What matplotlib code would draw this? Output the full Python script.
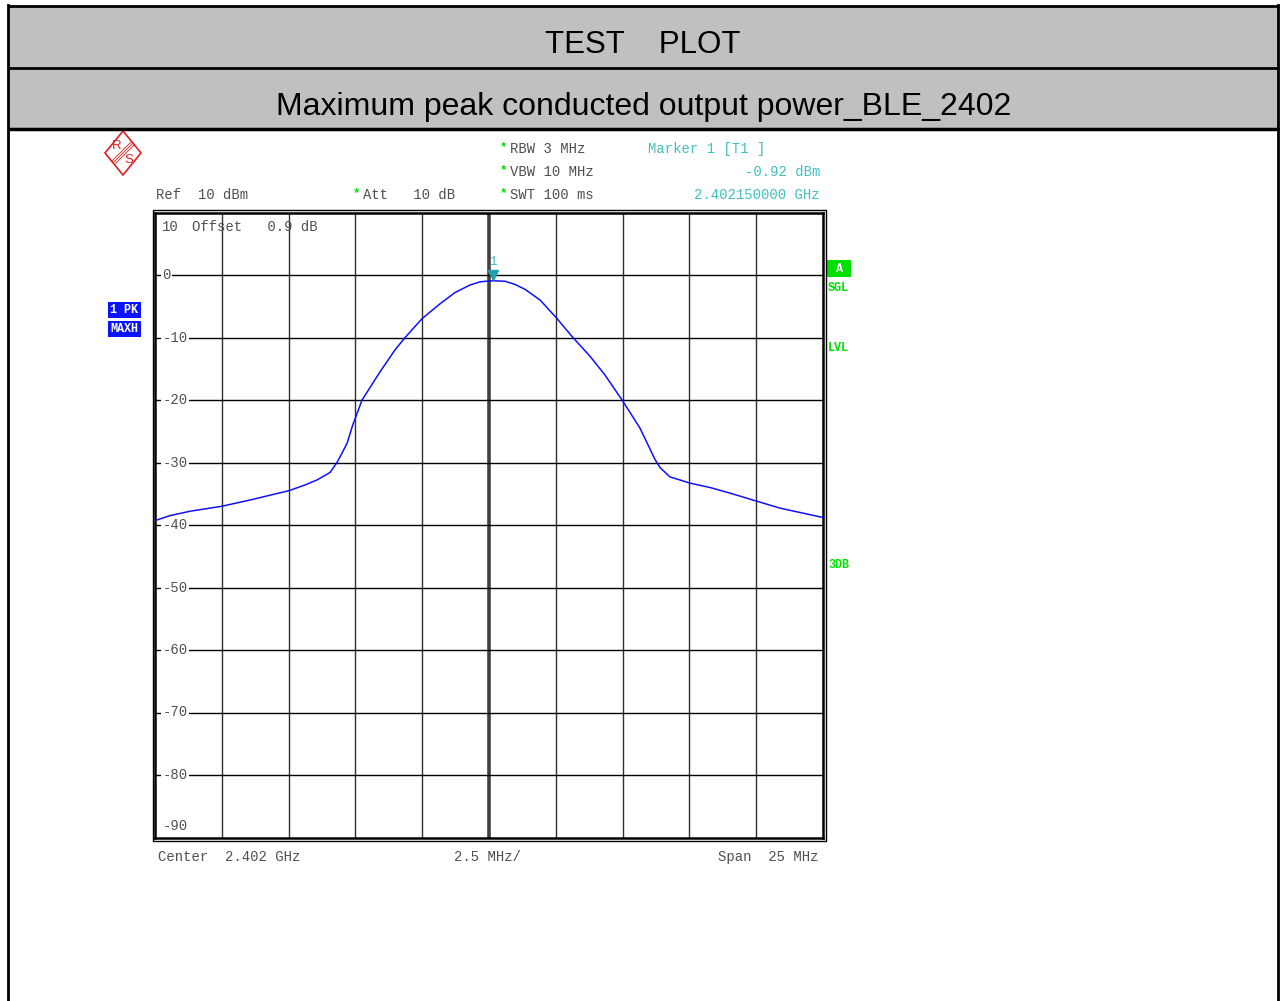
"""Spectrum analyser screenshot: maximum peak conducted output power, BLE 2402 MHz."""
import matplotlib

matplotlib.use("Agg")
import matplotlib.pyplot as plt
import matplotlib.transforms as mtransforms
from matplotlib.patches import Polygon, Rectangle

# trace: offset from centre (MHz) and level (dBm)
FREQ_MHZ = [-12.5, -11.94, -11.19, -10.0, -8.94, -7.48, -6.89, -6.44, -5.95, -5.69,
            -5.50, -5.31, -5.10, -4.75, -4.08, -3.52, -3.14, -2.51, -1.83, -1.27,
            -0.71, -0.34, 0.0, 0.15, 0.6, 0.97, 1.35, 1.91, 2.51, 3.14,
            3.78, 4.34, 4.98, 5.65, 6.21, 6.40, 6.77, 7.15, 7.52, 8.27,
            9.02, 10.03, 10.89, 11.64, 12.5]
LEVEL_DBM = [-39.3, -38.5, -37.8, -37.0, -36.0, -34.5, -33.6, -32.8, -31.6, -30.0,
             -28.5, -26.9, -24.0, -20.0, -15.5, -12.0, -10.0, -7.0, -4.6, -2.8,
             -1.6, -1.1, -0.95, -0.92, -1.0, -1.5, -2.3, -4.0, -6.8, -10.0,
             -13.0, -16.0, -20.0, -24.5, -29.5, -30.8, -32.3, -32.8, -33.3, -34.0,
             -34.9, -36.2, -37.3, -38.0, -38.8]
CENTER_MHZ = 2402
MARKER_FREQ_MHZ = 0.15
MARKER_LEVEL_DBM = -0.92
Y_LABELS = [10, 0, -10, -20, -30, -40, -50, -60, -70, -80, -90]
X_DIVS = [-12.5, -10, -7.5, -5, -2.5, 0, 2.5, 5, 7.5, 10, 12.5]

MONO = "Liberation Mono"
GREY = "#505050"
TEAL = "#40c0c0"
GREEN = "#00e000"
BLUE = "#1010ff"

W, H = 1280, 1001
fig = plt.figure(figsize=(W / 100, H / 100), dpi=100, facecolor="white")

# page furniture in pixel coordinates
ov = fig.add_axes([0, 0, 1, 1])
ov.set_xlim(0, W)
ov.set_ylim(H, 0)
ov.axis("off")
ov.add_patch(Rectangle((8, 6), 1270, 123, facecolor="#c0c0c0", edgecolor="none"))
for y, lw in ((6, 2), (68, 2), (129, 2.5)):
    ov.plot([8, 1279], [y, y], color="black", lw=lw, solid_capstyle="butt")
ov.plot([8, 8], [5, H], color="black", lw=2)
ov.plot([1278, 1278], [5, H], color="black", lw=2)
ov.text(643, 45, "TEST    PLOT", ha="center", va="center", fontsize=22.5,
        family="Liberation Sans")
ov.text(644, 107, "Maximum peak conducted output power_BLE_2402", ha="center",
        va="center", fontsize=23, family="Liberation Sans")

# R&S logo
red = "#e02020"
ov.add_patch(Polygon([(123, 131), (141, 153), (123, 175), (105, 153)], closed=True,
                     fill=False, edgecolor=red, lw=1.2))
for d in (-1.5, 0, 1.5):
    ov.plot([114 + d, 133 + d], [162 + d, 143 + d], color=red, lw=0.6)
ov.text(117, 146, "R", color=red, fontsize=9.5, ha="center", va="center",
        family="Liberation Sans")
ov.text(129, 160, "S", color=red, fontsize=9.5, ha="center", va="center",
        family="Liberation Sans")

# instrument settings
fs = 10
ov.text(156, 195, "Ref  10 dBm", color=GREY, fontsize=fs, va="center", family=MONO)
ov.text(363, 195, "Att   10 dB", color=GREY, fontsize=fs, va="center", family=MONO)
for y, s in ((149, "RBW 3 MHz"), (172, "VBW 10 MHz"), (195, "SWT 100 ms")):
    ov.text(510, y, s, color=GREY, fontsize=fs, va="center", family=MONO)
    ov.text(503, y - 2, "*", color=GREEN, fontsize=9, ha="center", va="center",
            family=MONO, fontweight="bold")
ov.text(356, 193, "*", color=GREEN, fontsize=9, ha="center", va="center",
        family=MONO, fontweight="bold")
ov.text(648, 149, "Marker 1 [T1 ]", color=TEAL, fontsize=fs, va="center", family=MONO)
ov.text(820, 172, f"{MARKER_LEVEL_DBM:.2f} dBm", color=TEAL, fontsize=fs, ha="right",
        va="center", family=MONO)
ov.text(820, 195, f"{(CENTER_MHZ + MARKER_FREQ_MHZ) / 1000:.9f} GHz", color=TEAL,
        fontsize=fs, ha="right", va="center", family=MONO)
ov.text(158, 857, f"Center  {CENTER_MHZ / 1000:.3f} GHz", color=GREY, fontsize=fs,
        va="center", family=MONO)
ov.text(488, 857, "2.5 MHz/", color=GREY, fontsize=fs, ha="center", va="center", family=MONO)
ov.text(819, 857, "Span  25 MHz", color=GREY, fontsize=fs, ha="right", va="center", family=MONO)

# side annotations
for y, s in ((310, "1 PK"), (329, "MAXH")):
    ov.add_patch(Rectangle((108, y - 8), 33, 16, facecolor="#0a14ff", edgecolor="none"))
    ov.text(124.5, y, s, color="white", fontsize=8.5, ha="center", va="center",
            family=MONO, fontweight="bold")
ov.add_patch(Rectangle((827, 260), 24, 17, facecolor=GREEN, edgecolor="none"))
ov.text(839, 268.5, "A", color="white", fontsize=8.5, ha="center", va="center",
        family=MONO, fontweight="bold")
for y, s in ((288, "SGL"), (348, "LVL"), (565, "3DB")):
    ov.text(828, y, s, color=GREEN, fontsize=8.5, va="center", family=MONO,
            fontweight="bold")

# outer frame around the graticule
ov.add_patch(Rectangle((152.5, 210), 673, 631, fill=False, edgecolor="black", lw=1))

# graticule and trace
ax = fig.add_axes([155 / W, 1 - 837.5 / H, 668 / W, 625 / H])
ax.set_xlim(X_DIVS[0], X_DIVS[-1])
ax.set_ylim(Y_LABELS[-1], Y_LABELS[0])
ax.set_xticks([])
ax.set_yticks([])
for s in ax.spines.values():
    s.set_linewidth(1.8)
for x in X_DIVS[1:-1]:
    if x == 0:
        ax.axvline(x, color="#404040", lw=2.6, zorder=1)
    else:
        ax.axvline(x, color="#303030", lw=1, zorder=1)
for y in Y_LABELS[1:-1]:
    ax.axhline(y, color="black", lw=1, zorder=1)

ax.plot(FREQ_MHZ, LEVEL_DBM, color=BLUE, lw=1.1, zorder=3)

off = mtransforms.ScaledTranslation(0, 6 / 100, fig.dpi_scale_trans)
ax.plot(MARKER_FREQ_MHZ, MARKER_LEVEL_DBM, marker="v", ms=7, color="#20a0a8",
        transform=ax.transData + off, zorder=4)
off2 = mtransforms.ScaledTranslation(0, 19 / 100, fig.dpi_scale_trans)
ax.text(MARKER_FREQ_MHZ, MARKER_LEVEL_DBM, "1", color=TEAL, fontsize=9, ha="center",
        va="center", family=MONO, transform=ax.transData + off2)

ytr = mtransforms.blended_transform_factory(ax.transAxes, ax.transData)
for v in Y_LABELS:
    edge = v in (Y_LABELS[0], Y_LABELS[-1])
    if v == Y_LABELS[0]:
        yy = v - 2.3
    elif v == Y_LABELS[-1]:
        yy = v + 1.8
    else:
        yy = v
    ax.text(0.011, yy, f"{v}", color=GREY, fontsize=fs, va="center", ha="left",
            family=MONO, transform=ytr, zorder=2,
            bbox=None if edge else dict(boxstyle="square,pad=0.1", facecolor="white",
                                        edgecolor="none"))
ax.text(0.055, Y_LABELS[0] - 2.3, "Offset   0.9 dB", color=GREY, fontsize=fs,
        va="center", ha="left", family=MONO, transform=ytr, zorder=4)

fig.savefig("out.png", dpi=100, facecolor="white")
